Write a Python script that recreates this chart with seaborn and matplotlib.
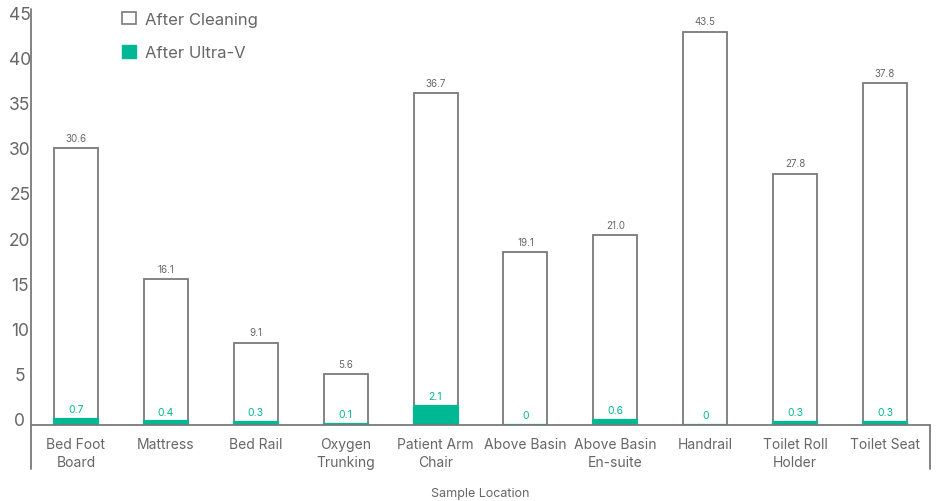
import matplotlib
matplotlib.use("Agg")
import matplotlib.pyplot as plt
import matplotlib.transforms as mtransforms
from matplotlib.patches import Patch
import seaborn as sns
import pandas as pd

categories = ["Bed Foot\nBoard", "Mattress", "Bed Rail", "Oxygen\nTrunking",
              "Patient Arm\nChair", "Above Basin", "Above Basin\nEn-suite",
              "Handrail", "Toilet Roll\nHolder", "Toilet Seat"]
after_cleaning = [30.6, 16.1, 9.1, 5.6, 36.7, 19.1, 21.0, 43.5, 27.8, 37.8]
after_ultrav = [0.7, 0.4, 0.3, 0.1, 2.1, 0, 0.6, 0, 0.3, 0.3]
y_ticks = [0, 5, 10, 15, 20, 25, 30, 35, 40, 45]

TEAL = "#00b894"
GRAY = "#666666"
EDGE = "#7a7a7a"

sns.set_style("white")
plt.rcParams["font.family"] = ["Inter", "DejaVu Sans"]

df = pd.DataFrame({"loc": categories, "clean": after_cleaning, "uv": after_ultrav})

fig = plt.figure(figsize=(9.36, 5.02), dpi=100)
ax = fig.add_axes([31 / 936, 1 - 426 / 502, 899 / 936, 416 / 502])

sns.barplot(data=df, x="loc", y="clean", order=categories, color="white",
            edgecolor=EDGE, linewidth=1.3, width=0.49, ax=ax, saturation=1)
sns.barplot(data=df, x="loc", y="uv", order=categories, color=TEAL,
            edgecolor=TEAL, linewidth=1.6, width=0.49, ax=ax, saturation=1)

ax.set_ylim(0, 46)
ax.set_xlim(-0.5, len(categories) - 0.5)
ax.set_yticks(y_ticks)
ax.set_yticklabels([str(v) for v in y_ticks])

for i, (c, u) in enumerate(zip(after_cleaning, after_ultrav)):
    ax.annotate(f"{c:.1f}", (i, c), xytext=(0, 4), textcoords="offset points",
                ha="center", va="bottom", fontsize=7, color=GRAY)
    ax.annotate(f"{u:g}", (i, u), xytext=(0, 3.5), textcoords="offset points",
                ha="center", va="bottom", fontsize=7.5, color=TEAL)

for s in ax.spines.values():
    s.set_visible(False)

# custom axis lines
ax.plot([0, 0], [-44 / 416, 1], transform=ax.transAxes, color=EDGE, lw=1.3, clip_on=False, zorder=5)
ax.plot([0, 1], [0, 0], transform=ax.transAxes, color=EDGE, lw=1.3, clip_on=False, zorder=5)
ax.plot([1, 1], [-44 / 416, 0], transform=ax.transAxes, color=EDGE, lw=1.3, clip_on=False, zorder=5)

ax.tick_params(axis="y", length=0, pad=8, labelsize=12.5, labelcolor=GRAY)
ax.tick_params(axis="x", length=0, pad=8.5, labelsize=10, labelcolor=GRAY)
offset = mtransforms.ScaledTranslation(0, 0.06, fig.dpi_scale_trans)
for lab in ax.get_yticklabels():
    lab.set_horizontalalignment("center")
    lab.set_transform(lab.get_transform() + offset)
for lab in ax.get_xticklabels():
    lab.set_linespacing(1.35)

ax.set_ylabel("")
ax.set_xlabel("Sample Location", fontsize=9, color=GRAY, labelpad=13)

handles = [Patch(facecolor="white", edgecolor=EDGE, linewidth=1.2, label="After Cleaning"),
           Patch(facecolor=TEAL, edgecolor=TEAL, label="After Ultra-V")]
leg = ax.legend(handles=handles, loc="upper left", bbox_to_anchor=(0.085, 1.03),
                frameon=False, fontsize=12, labelcolor=GRAY, handlelength=0.8,
                handleheight=0.8, handletextpad=0.55, labelspacing=1.1)

fig.savefig("out.png", dpi=100)
